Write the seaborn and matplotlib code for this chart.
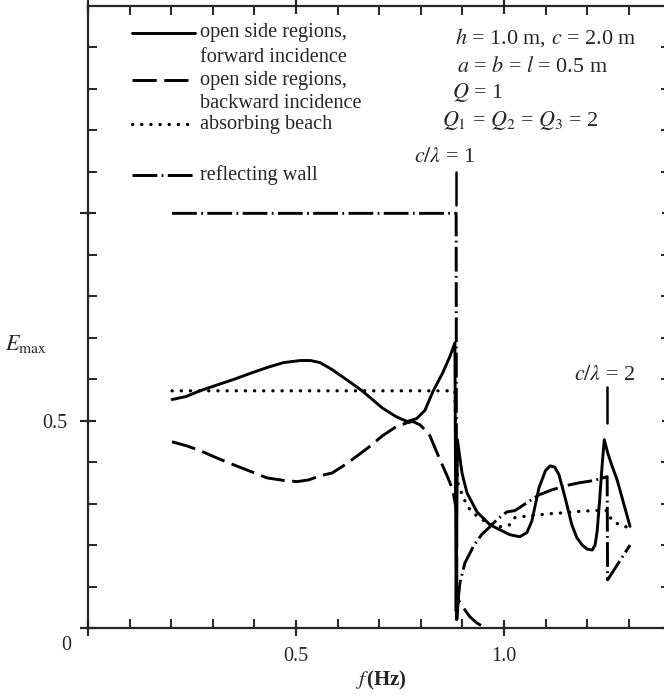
import numpy as np
import matplotlib
matplotlib.use("Agg")
import matplotlib.pyplot as plt
import seaborn as sns

# ---------------- data ----------------
freq_fwd = [0.202, 0.235, 0.269, 0.31, 0.349, 0.39, 0.430, 0.47, 0.510, 0.535, 0.558, 0.587,
            0.62, 0.659, 0.707, 0.74, 0.767, 0.790, 0.810, 0.829, 0.853, 0.870, 0.882,
            0.885, 0.888, 0.899, 0.911, 0.935, 0.966, 1.014, 1.038, 1.055, 1.067, 1.084,
            1.10, 1.111, 1.122, 1.132, 1.147, 1.163, 1.175, 1.188, 1.20, 1.212, 1.219,
            1.224, 1.230, 1.236, 1.241, 1.25, 1.26, 1.272, 1.285, 1.303]
E_fwd = [0.551, 0.558, 0.572, 0.586, 0.599, 0.614, 0.628, 0.640, 0.645, 0.645, 0.640, 0.623,
         0.60, 0.572, 0.531, 0.510, 0.498, 0.505, 0.525, 0.570, 0.616, 0.655, 0.688,
         0.04, 0.454, 0.374, 0.326, 0.28, 0.249, 0.225, 0.22, 0.23, 0.258, 0.338,
         0.380, 0.391, 0.388, 0.37, 0.314, 0.249, 0.218, 0.20, 0.19, 0.188, 0.20,
         0.234, 0.31, 0.394, 0.454, 0.42, 0.39, 0.357, 0.31, 0.245]

freq_bwd = [0.202, 0.235, 0.269, 0.31, 0.349, 0.39, 0.430, 0.47, 0.502, 0.53, 0.558, 0.587,
            0.62, 0.651, 0.68, 0.707, 0.74, 0.767, 0.781, 0.798, 0.820, 0.846, 0.862,
            0.877, 0.886, 0.887, 0.890, 0.894, 0.905, 0.918, 0.935, 0.95, 0.958]
E_bwd = [0.449, 0.440, 0.428, 0.410, 0.394, 0.378, 0.362, 0.356, 0.353, 0.357, 0.367, 0.374,
         0.395, 0.418, 0.440, 0.463, 0.485, 0.495, 0.498, 0.490, 0.468, 0.406, 0.37,
         0.333, 0.28, 0.02, 0.07, 0.06, 0.045, 0.027, 0.012, 0.003, 0.0]

freq_beach = [0.202, 0.882, 0.885, 0.889, 0.902, 0.918, 0.935, 0.95, 0.97, 0.99, 1.014,
              1.026, 1.055, 1.084, 1.115, 1.147, 1.18, 1.212, 1.235, 1.248, 1.26, 1.284, 1.303]
E_beach = [0.572, 0.572, 0.42, 0.35, 0.314, 0.285, 0.27, 0.26, 0.25, 0.244, 0.249,
           0.266, 0.27, 0.273, 0.276, 0.278, 0.281, 0.283, 0.284, 0.283, 0.258, 0.246, 0.242]

freq_wall = [0.202, 0.885, 0.886, 0.889, 0.894, 0.906, 0.926, 0.946, 0.966, 0.985, 1.007,
             1.026, 1.055, 1.084, 1.115, 1.147, 1.18, 1.212, 1.235, 1.248, 1.249, 1.303]
E_wall = [1.0, 1.0, 0.02, 0.06, 0.109, 0.157, 0.196, 0.225, 0.244, 0.263, 0.28,
          0.283, 0.302, 0.321, 0.333, 0.343, 0.35, 0.355, 0.361, 0.365, 0.116, 0.20]

series_names = ["open side regions,\nforward incidence",
                "open side regions,\nbackward incidence",
                "absorbing beach",
                "reflecting wall"]

marker_freqs = [0.885, 1.248]          # c/lambda = 1, c/lambda = 2
marker_lo = [1.02, 0.495]
marker_hi = [1.10, 0.58]
marker_labels = [r"$c/\lambda$ = 1", r"$c/\lambda$ = 2"]

param_texts = [r"$h$ = 1.0 m, $c$ = 2.0 m",
               r"$a$ = $b$ = $l$ = 0.5 m",
               r"$Q$ = 1",
               r"$Q_1$ = $Q_2$ = $Q_3$ = 2"]

xticks_major = [0.0, 0.5, 1.0]
xtick_labels = ["", "0.5", "1.0"]
yticks_major = [0.0, 0.5, 1.0]
ytick_labels = ["", "0.5", ""]

# ---------------- style ----------------
sns.set_style("ticks")
plt.rcParams["font.family"] = ["Liberation Serif", "DejaVu Serif"]
plt.rcParams["mathtext.fontset"] = "stix"
plt.rcParams["font.size"] = 14.5

fig = plt.figure(figsize=(6.64, 6.96), dpi=100)
AX_L, AX_R, AX_B, AX_T = 88, 670, 628, 6
ax = fig.add_axes([AX_L / 664, (696 - AX_B) / 696, (AX_R - AX_L) / 664, (AX_B - AX_T) / 696])
renderer = fig.canvas.get_renderer()


def fitted_size(s, width_px, **kw):
    t = fig.text(0, 0, s, fontsize=14.5, **kw)
    w = t.get_window_extent(renderer).width
    t.remove()
    return 14.5 * width_px / w


LW = 2.1
styles = [
    dict(linestyle="-"),
    dict(linestyle=(0, (8.3, 2.6))),
    dict(linestyle=(0, (0.05, 2.7)), dash_capstyle="round", lw=2.4),
    dict(linestyle=(0, (8.5, 1.5, 0.6, 1.5))),
]
datasets = [(freq_fwd, E_fwd), (freq_bwd, E_bwd), (freq_beach, E_beach), (freq_wall, E_wall)]
for (fx, fy), st in zip(datasets, styles):
    kw = dict(lw=LW)
    kw.update(st)
    sns.lineplot(x=np.array(fx), y=np.array(fy), ax=ax, color="black", sort=False,
                 estimator=None, **kw)

# axes
ax.set_xlim(0, (AX_R - AX_L) / 416)
ax.set_ylim(0, 1.5)
ax.set_xticks(xticks_major, labels=xtick_labels)
ax.set_yticks(yticks_major, labels=ytick_labels)
ax.set_xticks(np.arange(0.1, 1.35, 0.1), minor=True)
ax.set_yticks(np.arange(0.1, 1.5, 0.1), minor=True)
ax.tick_params(which="major", direction="inout", length=11, width=1.6,
               top=True, right=True, labelsize=14.5)
ax.tick_params(which="minor", direction="in", length=6.5, width=1.4,
               top=True, right=True)
ax.tick_params(axis="x", which="major", pad=8)
ax.tick_params(axis="y", which="major", pad=9)
for s in ["left", "bottom", "top"]:
    ax.spines[s].set_linewidth(1.6)
ax.spines["right"].set_visible(False)
ax.set_xlabel("")
ax.set_ylabel("")

# resonance markers
for xm, lo, hi in zip(marker_freqs, marker_lo, marker_hi):
    ax.plot([xm, xm], [lo, hi], color="black", lw=1.8)

ann_fs = fitted_size(param_texts[3], 157)


def px_text(px_left, py_center, s, fs, **kw):
    return fig.text(px_left / 664, 1 - py_center / 696, s, ha="left", va="center",
                    fontsize=fs, **kw)


px_text(414, 158, marker_labels[0], ann_fs)
px_text(574, 375, marker_labels[1], ann_fs)

# parameter texts
px_text(455, 38, param_texts[0], ann_fs)
px_text(457, 67, param_texts[1], ann_fs)
px_text(452, 93, param_texts[2], ann_fs)
px_text(442, 120, param_texts[3], ann_fs)

# manual legend (axes coordinates)
def ay(py):
    return (AX_B - py) / (AX_B - AX_T)


def axx(px):
    return (px - AX_L) / (AX_R - AX_L)


leg_rows = [(33, 57), (80, 103), (124, None), (175, None)]
leg_fs = fitted_size("open side regions,", 147)
for (r1, r2), name, st in zip(leg_rows, series_names, styles):
    kw = dict(lw=LW)
    kw.update(st)
    ax.plot([axx(132), axx(195)], [ay(r1), ay(r1)], color="black",
            transform=ax.transAxes, clip_on=False, **kw)
    lines = name.split("\n")
    ax.text(axx(200), ay(r1), lines[0], transform=ax.transAxes, ha="left", va="center",
            fontsize=leg_fs)
    if r2 is not None:
        ax.text(axx(200), ay(r2), lines[1], transform=ax.transAxes, ha="left", va="center",
                fontsize=leg_fs)

px_text(61, 646, "0", 14.5)
px_text(5, 344, r"$E_{\mathrm{max}}$", fitted_size(r"$E_{\mathrm{max}}$", 42))
px_text(355, 680, r"$f\,$(Hz)", 15, fontweight="bold")

fig.savefig("out.png", dpi=100)
